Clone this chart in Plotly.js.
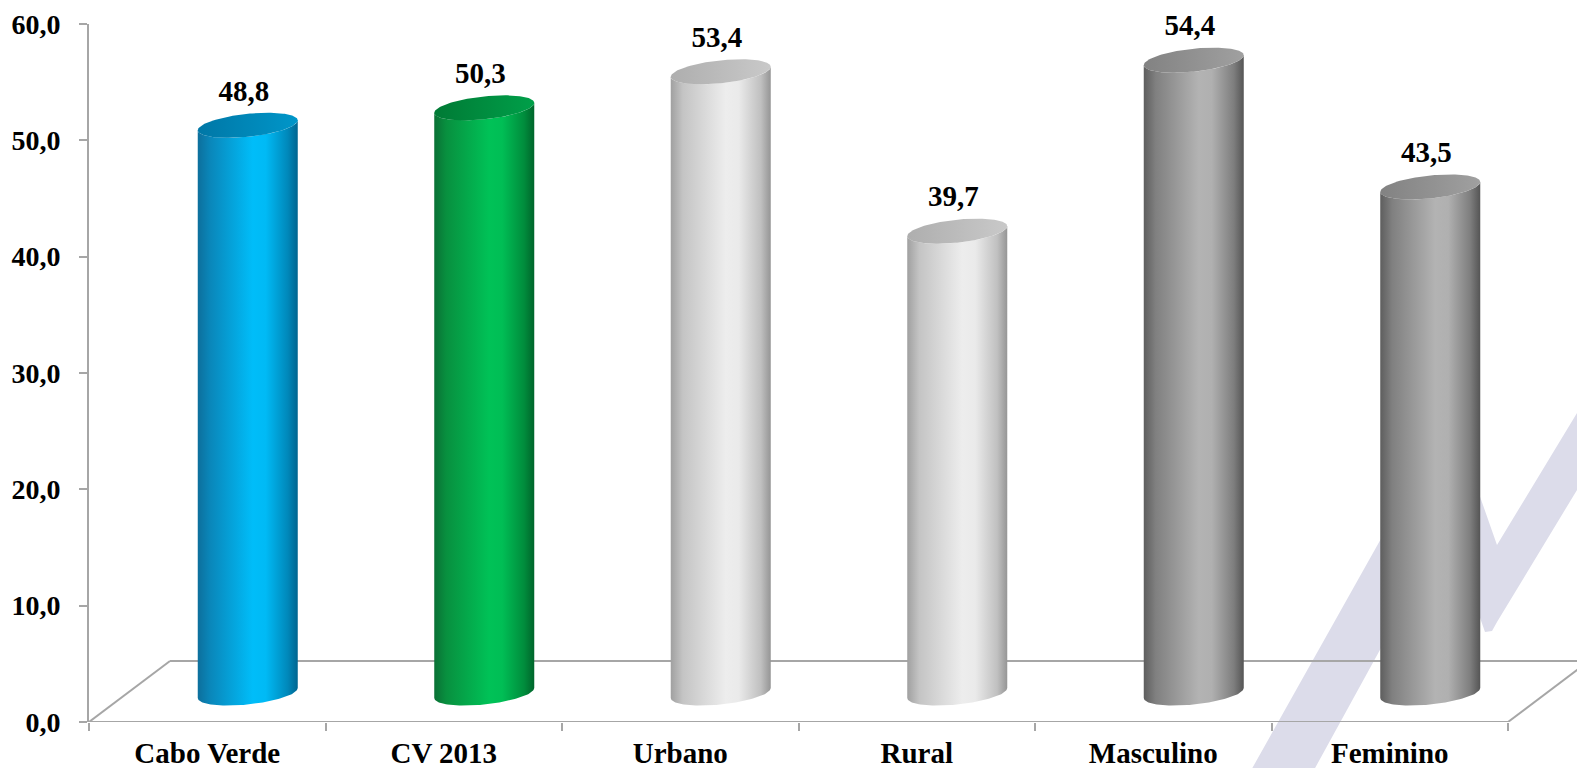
<!DOCTYPE html>
<html>
<head>
<meta charset="utf-8">
<script src="https://cdn.plot.ly/plotly-3.0.1.min.js"></script>
<style>
  html, body { margin: 0; padding: 0; background: #ffffff; }
  #chart { width: 1577px; height: 768px; }
</style>
</head>
<body>
<div id="chart"></div>
<script>
// ---------------- DATA ----------------
const categories = ['Cabo Verde', 'CV 2013', 'Urbano', 'Rural', 'Masculino', 'Feminino'];
const values = [48.8, 50.3, 53.4, 39.7, 54.4, 43.5];
const yTickValues = [0, 10, 20, 30, 40, 50, 60];

// ---------------- STYLE ----------------
const paletteIndex = [0, 1, 2, 2, 3, 3];
const bodyScales = [
  [[0, '#0d6f9c'], [0.12, '#0a86b9'], [0.55, '#00bdf9'], [0.68, '#00baf5'], [0.9, '#0088ba'], [1, '#006590']],
  [[0, '#0a7035'], [0.12, '#08903f'], [0.55, '#00c257'], [0.68, '#00be55'], [0.9, '#008c3c'], [1, '#00652b']],
  [[0, '#a0a0a0'], [0.12, '#c4c4c4'], [0.55, '#ededed'], [0.68, '#eaeaea'], [0.9, '#c0c0c0'], [1, '#959595']],
  [[0, '#5e5e5e'], [0.12, '#808080'], [0.55, '#b3b3b3'], [0.68, '#b0b0b0'], [0.9, '#7e7e7e'], [1, '#555555']]
];
const capScales = [
  [[0, '#0077a6'], [1, '#0096c9']],
  [[0, '#007a35'], [1, '#009f49']],
  [[0, '#aeaeae'], [1, '#c9c9c9']],
  [[0, '#828282'], [1, '#a0a0a0']]
];
const axisGray = '#a6a6a6';
const fontFamily = 'Liberation Serif';

// layout geometry
const W = 1577, H = 768;
const M = { l: 89, r: 0, t: 24, b: 46 };
const plotW = W - M.l - M.r, plotH = H - M.t - M.b;
const catPx = 1419 / categories.length;          // px per category
const xRange = [-0.5, -0.5 + plotW / catPx];
const yRange = [0, 60];
const pxY = plotH / (yRange[1] - yRange[0]);      // px per value unit

const depthX = 81 / catPx, depthY = 61 / pxY;     // floor depth
const cylOffX = 40.5 / catPx, cylOffY = 29 / pxY; // cylinder centre offset
const rx = 50 / catPx, ry = 11.5 / pxY, shear = 5 / pxY;
const labelGap = 32 / pxY;
const N = 72;

function ellipsePt(cx, cy, t) {
  return [cx + rx * Math.cos(t), cy + ry * Math.sin(t) + shear * Math.cos(t)];
}

const traces = [];

// floor frame
const fx = [], fy = [];
function seg(x0, y0, x1, y1) { fx.push(x0, x1, null); fy.push(y0, y1, null); }
const xL = -0.5, xR = categories.length - 0.5;
seg(xL, 0, xR, 0);
seg(xR, 0, xR + depthX, depthY);
seg(xL, 0, xL + depthX, depthY);
seg(xL + depthX, depthY, xR + depthX, depthY);
traces.push({ x: fx, y: fy, mode: 'lines', line: { color: axisGray, width: 2 }, hoverinfo: 'skip', showlegend: false });

// cylinders
const labelX = [], labelY = [], labelText = [];
values.forEach((v, i) => {
  const cx = i + cylOffX;
  const cyB = cylOffY;
  const cyT = cylOffY + v;
  const bx = [], by = [];
  for (let k = 0; k <= N; k++) {
    const t = Math.PI + Math.PI * k / N;
    const p = ellipsePt(cx, cyB, t); bx.push(p[0]); by.push(p[1]);
  }
  for (let k = N; k >= 0; k--) {
    const t = Math.PI + Math.PI * k / N;
    const p = ellipsePt(cx, cyT, t); bx.push(p[0]); by.push(p[1]);
  }
  traces.push({
    x: bx, y: by, mode: 'lines', fill: 'toself', line: { width: 0, color: 'rgba(0,0,0,0)' },
    fillgradient: { type: 'horizontal', colorscale: bodyScales[paletteIndex[i]] },
    hoverinfo: 'skip', showlegend: false
  });
  const cxs = [], cys = [];
  for (let k = 0; k <= 2 * N; k++) {
    const t = 2 * Math.PI * k / (2 * N);
    const p = ellipsePt(cx, cyT, t); cxs.push(p[0]); cys.push(p[1]);
  }
  traces.push({
    x: cxs, y: cys, mode: 'lines', fill: 'toself', line: { width: 0, color: 'rgba(0,0,0,0)' },
    fillgradient: { type: 'horizontal', colorscale: capScales[paletteIndex[i]] },
    hoverinfo: 'skip', showlegend: false
  });
  labelX.push(cx - 4 / catPx);
  labelY.push(cyT + labelGap);
  labelText.push(v.toFixed(1).replace('.', ','));
});

traces.push({
  x: labelX, y: labelY, text: labelText, mode: 'text', textposition: 'middle center',
  textfont: { family: fontFamily, size: 29, color: '#000000', weight: 'bold' },
  cliponaxis: false, hoverinfo: 'skip', showlegend: false
});

// watermark (decorative, pixel outline converted to paper coords)
const wm = [[1240, 790], [1451, 414], [1497, 545], [1600, 375], [1600, 452], [1497, 622], [1492, 631], [1485, 632],
            [1448, 526], [1303, 790]];
const wmPath = wm.map((p, k) => (k ? 'L' : 'M') + ((p[0] - M.l) / plotW).toFixed(5) + ',' + ((H - M.b - p[1]) / plotH).toFixed(5)).join(' ') + ' Z';

const boundaries = [];
for (let k = 0; k <= categories.length; k++) boundaries.push(k - 0.5);

const layout = {
  width: W, height: H,
  margin: M,
  paper_bgcolor: '#ffffff', plot_bgcolor: 'rgba(0,0,0,0)',
  separators: ', ',
  showlegend: false,
  xaxis: {
    range: xRange, showgrid: false, zeroline: false, showline: false,
    tickmode: 'array', tickvals: categories.map((c, i) => i), ticktext: categories,
    ticks: '', ticklabelstandoff: 11,
    tickfont: { family: fontFamily, size: 29, color: '#000000', weight: 'bold' },
    minor: { tickmode: 'array', tickvals: boundaries, ticks: 'outside', ticklen: 8, tickwidth: 2, tickcolor: axisGray, showgrid: false },
    fixedrange: true
  },
  yaxis: {
    range: yRange, showgrid: false, zeroline: false,
    showline: true, linecolor: axisGray, linewidth: 2,
    tickmode: 'array', tickvals: yTickValues, tickformat: '.1f',
    ticks: 'outside', ticklen: 8, tickwidth: 2, tickcolor: axisGray, ticklabelstandoff: 13,
    tickfont: { family: fontFamily, size: 28, color: '#000000', weight: 'bold' },
    fixedrange: true
  },
  shapes: [{
    type: 'path', xref: 'paper', yref: 'paper', path: wmPath,
    fillcolor: '#dcdcea', line: { width: 0 }, layer: 'below'
  }]
};

Plotly.newPlot('chart', traces, layout, { displayModeBar: false, staticPlot: true });
</script>
</body>
</html>
